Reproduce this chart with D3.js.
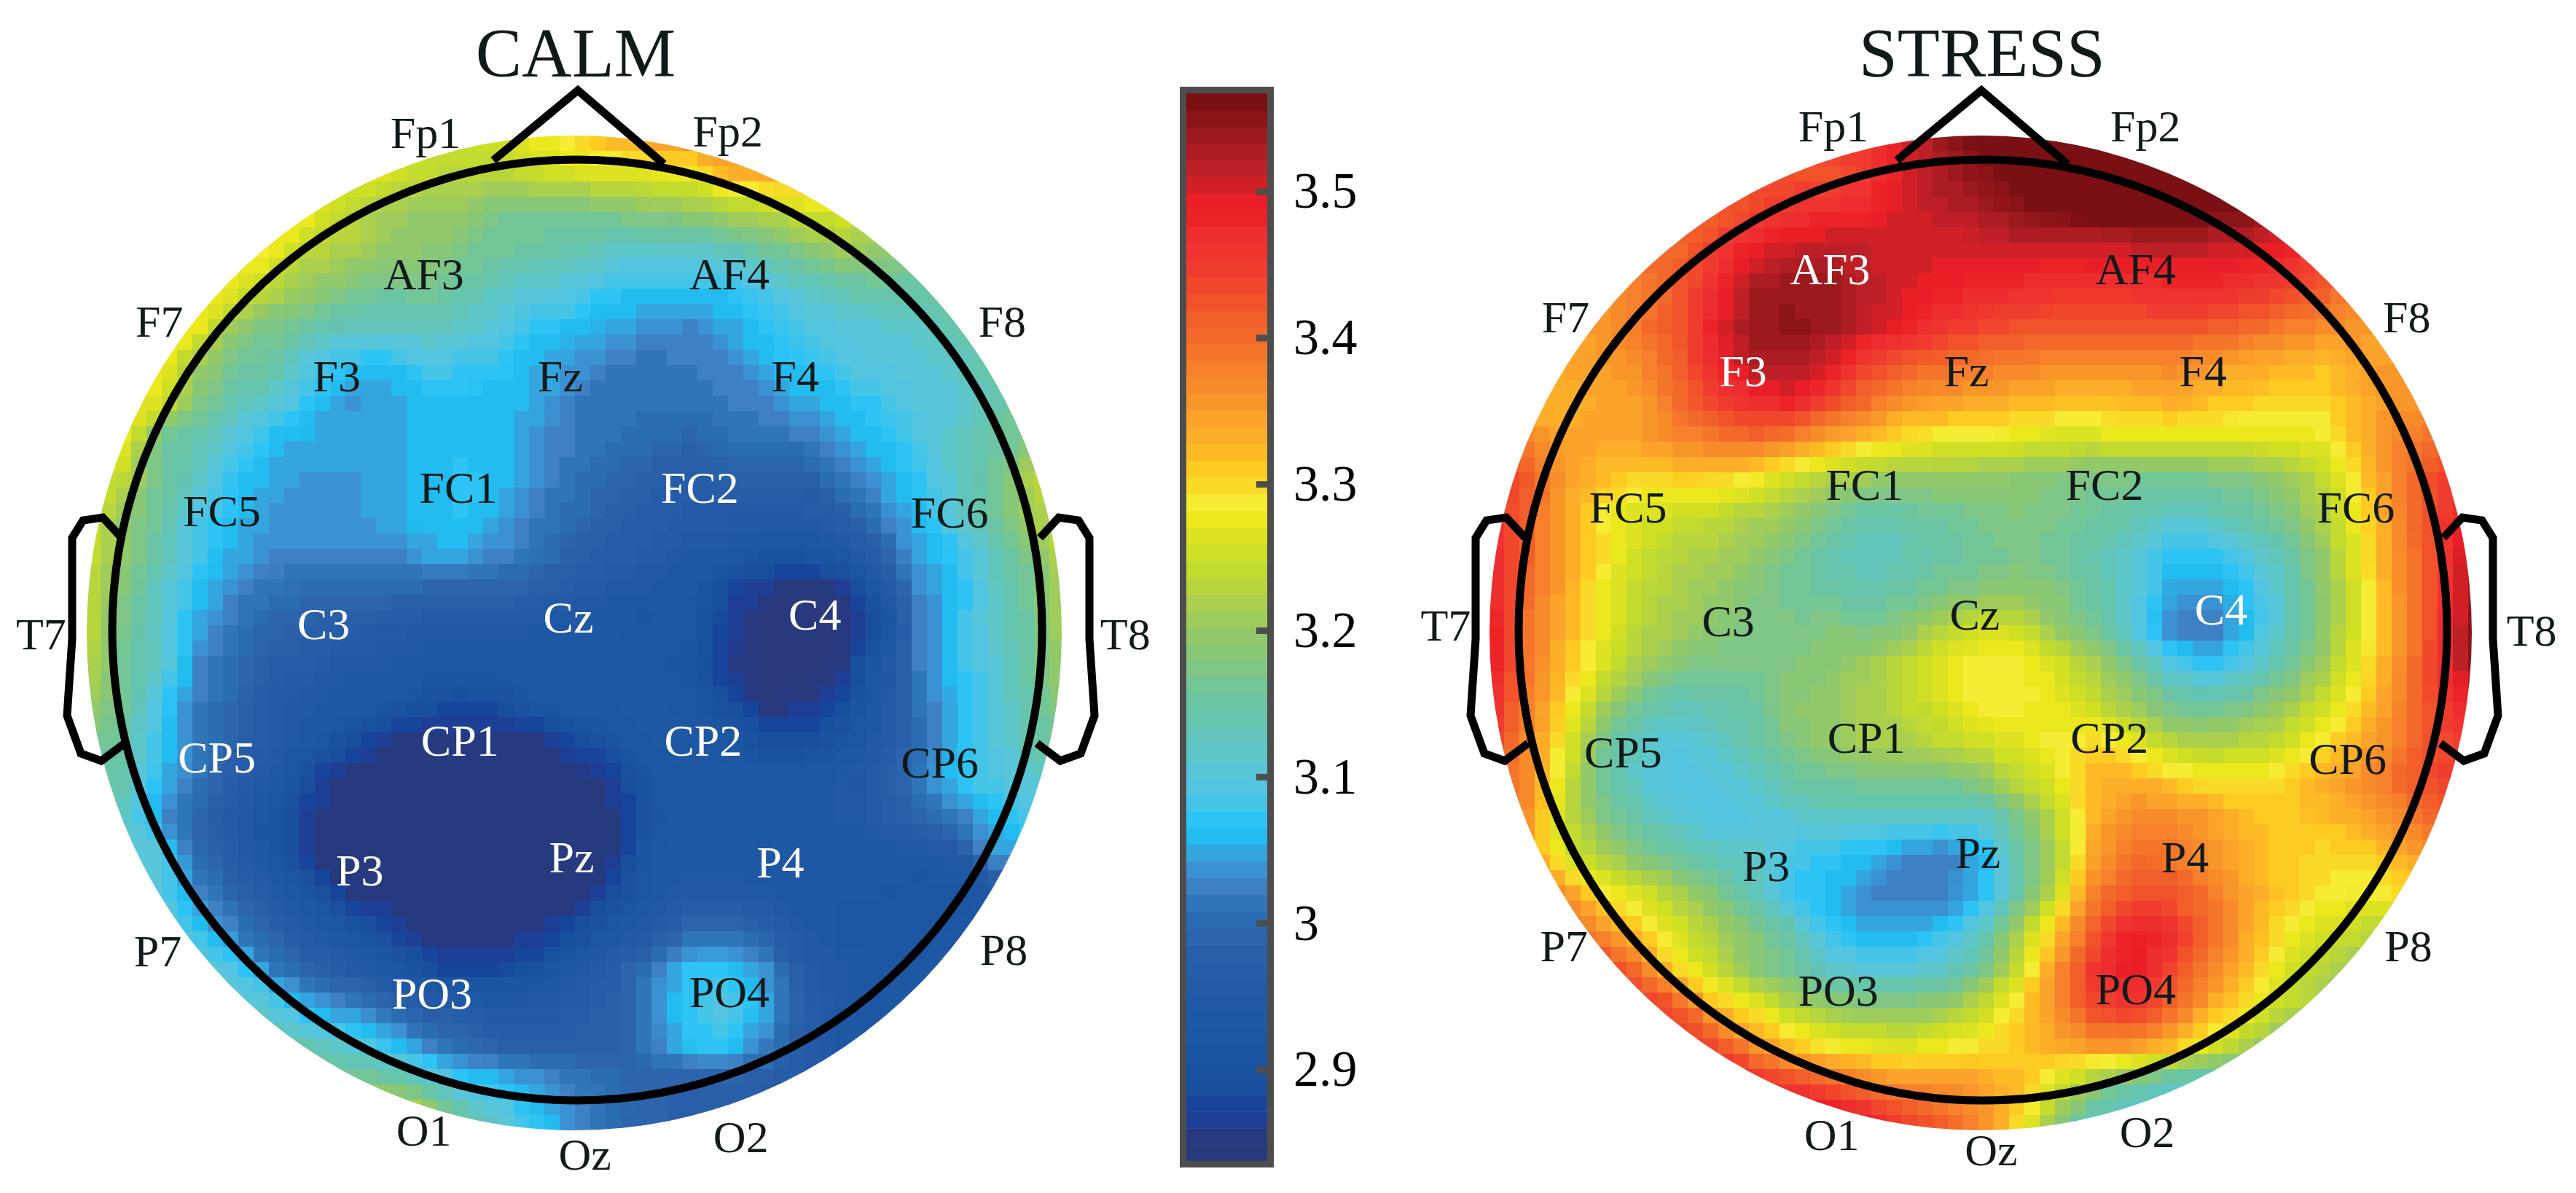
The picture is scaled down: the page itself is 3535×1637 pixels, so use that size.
<!DOCTYPE html>
<html><head><meta charset="utf-8">
<script src="https://cdn.jsdelivr.net/npm/d3@7"></script>
<style>html,body{margin:0;background:#fff}svg{display:block}text{font-family:"Liberation Serif","Times New Roman",serif}</style>
</head><body><svg id="c" width="3535" height="1637"></svg>
<script>
// Colour-bar levels, top of the scale last
const palette=["#28397c","#273a80","#1f3f96","#17459b","#19509d","#1b52a0","#1c55a2","#1d56a3","#1e57a4","#2058a5","#2359a6","#255da8","#295ea8","#2c65ae","#2b6db2","#2f75b9","#3e80c4","#3b92d2","#34a5de","#22bcf0","#2dc4f5","#44c5e8","#53c5e0","#58c6d8","#5dc6c9","#61c5bb","#66c5ad","#6bc5a5","#73c696","#7fc687","#88c776","#92c96a","#9fcc5b","#abd04e","#b8d63b","#c3da2e","#cfdf24","#dde222","#ebe81e","#f5ec33","#fada28","#fecb22","#feba25","#fdae29","#fba32a","#f9962a","#f78b2a","#f6802b","#f5752b","#f3692b","#f25e2a","#f1522a","#f1472c","#f03c2e","#ef3430","#ee2d2f","#ec2327","#e91e26","#d02026","#be1f26","#ac1c22","#9c191e","#8b1418","#7a1013"];
const colorDomain=[2.837,3.567];
const tickValues=[2.9,3,3.1,3.2,3.3,3.4,3.5];
const tickLabels=["2.9","3","3.1","3.2","3.3","3.4","3.5"];
const titles=["CALM","STRESS"];
const electrodes=["Fp1","Fp2","AF3","AF4","F7","F8","F3","Fz","F4","FC5","FC1","FC2","FC6","T7","T8","C3","Cz","C4","CP5","CP1","CP2","CP6","P3","Pz","P4","P7","P8","PO3","PO4","O1","Oz","O2"];

// Field values (hundredths), 27 rows of 27
const calmValues=[
[325,325,325,325,325,325,325,325,325,325,325,326,328,331,333,336,337,337,337,337,337,337,337,337,337,337,337],
[326,326,326,326,326,326,326,326,326,324,323,323,325,326,327,327,328,333,334,333,332,332,332,332,332,332,332],
[328,328,328,328,328,328,328,324,321,320,320,317,317,317,318,319,320,322,323,326,326,324,322,322,322,322,322],
[329,329,329,329,329,328,323,322,320,319,317,316,315,314,312,312,312,313,316,318,321,320,318,318,318,318,318],
[328,328,328,328,327,323,320,318,316,317,315,312,311,310,307,307,307,307,309,312,314,315,315,316,316,316,316],
[328,328,328,328,320,317,315,313,313,313,312,310,307,306,305,304,303,305,307,309,310,311,312,315,315,315,315],
[328,328,328,321,316,315,309,307,306,309,308,307,305,304,302,301,302,303,306,307,309,310,310,312,315,315,315],
[327,327,327,318,314,311,307,304,305,306,306,306,305,302,301,301,301,302,303,305,306,308,310,311,314,317,317],
[328,328,316,314,309,306,305,305,305,306,306,306,303,302,301,300,299,301,301,302,305,306,309,312,315,318,320],
[326,324,316,312,307,305,304,304,305,306,307,306,303,301,299,298,297,298,298,298,302,305,307,312,316,323,325],
[326,320,315,309,306,304,304,304,305,306,307,305,302,300,298,297,296,296,296,296,298,302,306,311,316,321,325],
[325,320,314,308,305,303,303,303,303,305,305,303,301,298,297,296,294,293,291,291,293,298,305,307,313,318,324],
[324,318,312,306,303,301,300,300,300,299,299,299,298,296,294,294,293,287,286,284,286,293,303,306,312,317,323],
[324,317,311,305,301,299,298,297,296,295,295,295,294,294,293,292,292,287,284,284,285,289,302,307,312,316,323],
[324,316,312,303,300,297,296,294,294,293,293,293,293,293,292,292,291,286,284,284,286,293,302,307,310,316,322],
[321,316,308,302,299,296,294,293,292,289,288,289,292,293,293,293,292,289,285,286,288,294,301,306,310,315,320],
[318,315,307,302,298,296,293,289,286,285,285,285,285,288,291,293,293,292,289,289,291,295,300,306,310,314,317],
[315,314,306,301,297,294,288,285,285,285,285,285,285,285,287,292,293,293,293,293,294,297,302,307,309,311,313],
[314,312,304,299,295,291,286,285,285,285,285,285,285,285,286,291,293,293,293,293,294,296,299,302,306,309,310],
[312,311,310,300,296,292,286,285,285,285,285,285,285,285,286,293,293,293,293,293,293,293,294,295,304,305,305],
[312,312,310,303,299,295,291,286,285,285,285,285,285,285,289,293,295,295,294,293,293,293,292,292,293,293,293],
[312,312,312,307,302,298,295,292,288,285,285,285,286,289,293,296,300,300,298,294,292,292,292,293,293,293,293],
[312,312,312,311,309,302,298,296,293,289,287,288,290,294,297,302,307,307,303,296,294,293,293,293,293,293,293],
[312,312,312,312,312,310,305,303,300,297,296,295,295,296,298,303,308,310,305,297,294,293,293,293,293,293,293],
[315,315,315,315,315,315,313,310,307,303,300,298,298,298,298,302,307,307,302,297,293,293,293,293,293,293,293],
[322,322,322,322,322,322,320,318,317,313,308,307,304,302,300,299,298,298,297,296,296,296,296,296,296,296,296],
[328,328,328,328,328,328,328,328,328,325,316,311,307,303,300,299,298,298,298,298,298,298,298,298,298,298,298]];
const stressValues=[
[345,345,345,345,345,345,345,345,345,345,345,350,354,357,357,357,357,357,357,357,357,357,357,357,357,357,357],
[343,343,343,343,343,343,343,343,343,342,345,350,353,355,357,357,357,357,357,357,357,357,357,357,357,357,357],
[342,342,342,342,342,342,341,344,346,347,348,350,352,353,355,357,357,357,357,357,356,353,353,353,353,353,353],
[340,340,340,340,340,340,345,349,351,352,351,350,350,350,351,350,351,351,352,351,350,349,344,344,344,344,344],
[336,336,336,336,338,342,347,353,354,354,352,350,349,348,347,346,346,346,347,348,346,345,342,338,338,338,338],
[334,334,334,336,339,342,349,354,355,354,351,349,346,344,343,343,343,343,343,342,341,339,337,336,334,334,334],
[334,334,334,335,337,341,348,353,353,350,344,342,340,339,338,337,337,337,337,336,334,333,332,334,336,336,336],
[332,332,333,334,335,340,345,347,349,344,340,336,335,334,333,332,332,332,334,332,331,330,330,333,336,336,336],
[338,338,334,334,335,337,339,340,338,334,332,329,328,328,327,326,326,327,327,327,327,327,328,333,337,340,340],
[345,342,335,332,330,331,331,329,326,323,321,320,320,320,319,318,317,317,317,317,318,320,324,330,338,344,345],
[346,341,334,329,326,325,324,322,320,317,314,315,316,317,318,317,316,314,312,313,315,317,322,329,337,344,350],
[348,341,334,330,325,323,322,320,317,314,312,313,315,316,317,316,314,311,307,307,310,314,320,328,336,344,353],
[349,340,334,328,324,322,320,318,316,315,314,315,317,318,319,318,315,311,305,304,307,312,319,327,336,344,354],
[350,339,333,328,323,321,319,317,317,318,317,319,323,326,325,320,316,310,303,301,306,312,319,327,335,344,355],
[350,339,332,326,321,318,317,317,318,319,321,324,327,329,329,326,322,317,310,307,310,315,321,328,336,345,355],
[348,338,330,322,316,313,314,315,319,320,322,324,326,329,329,327,324,320,316,315,317,320,325,330,337,344,350],
[345,337,328,317,312,310,312,315,318,320,322,322,324,325,327,329,330,327,323,322,323,325,329,333,338,343,346],
[342,337,326,316,311,309,310,312,315,316,317,317,317,319,324,327,333,333,331,329,329,330,333,336,340,344,347],
[340,336,324,318,314,311,309,310,311,312,311,311,311,311,317,324,333,337,337,335,332,331,332,334,337,341,343],
[338,335,326,322,318,315,313,312,308,307,306,303,302,305,315,322,335,339,339,336,333,331,330,330,333,336,336],
[338,338,336,329,326,322,318,313,308,306,303,302,302,306,315,325,338,343,342,339,334,331,329,328,330,330,330],
[340,340,340,336,331,326,322,318,314,307,305,305,307,312,322,332,342,349,347,341,334,329,326,324,322,322,322],
[345,345,345,345,339,330,324,319,316,312,310,310,312,316,325,336,346,350,344,338,332,326,323,320,318,318,318],
[345,345,345,345,345,342,332,328,323,320,319,319,320,324,330,337,344,346,341,334,329,324,321,319,318,318,318],
[345,345,345,345,345,345,343,336,331,328,327,326,328,329,331,334,336,336,333,327,322,318,317,317,317,317,317],
[350,350,350,350,350,350,350,347,344,342,338,336,336,335,332,326,320,316,312,311,311,311,311,311,311,311,311],
[350,350,350,350,350,350,350,350,352,352,349,344,341,337,330,320,312,310,310,310,310,310,310,310,310,310,310]];

// Layout of the text labels (page pixels)
const k=3535/1568;
const calmLabelX=[259,443,258,444,97,610,205,341,484,135,279,426,578,25,685,197,346,496,132,280,428,572,219,348,475,96,611,263,444,258,356,451];
const calmLabelY=[81,80,167,167,196,196,229,229,229,311,297,297,312,386,386,380,376,374,461,451,451,464,530,522,525,579,578,605,604,688,703,692];
const stressLabelX=[1116,1306,1114,1300,953,1465,1061,1197,1341,991,1135,1281,1434,880,1541,1052,1202,1352,988,1136,1284,1429,1075,1204,1330,952,1466,1119,1300,1115,1212,1307];
const stressLabelY=[77,77,164,164,193,193,226,226,226,309,295,295,309,381,384,378,374,371,458,449,449,462,527,519,522,576,576,603,602,691,700,689];
const calmWhite=["C3","Cz","C4","FC2","CP5","CP1","CP2","P3","Pz","P4","PO3"];
const stressWhite=["AF3","F3","C4"];

// Head outline, relative to the head centre (page pixels)
const noseOutline=[[-116,-642],[0,-738],[118,-637]];
const earOutline=[[632,-124],[658,-152],[685,-148],[700,-124],[700,-39],[700,15],[707,120],[688,172],[660,182],[628,158]];

const svg=d3.select("#c");
const defs=svg.append("defs");
const color=d3.scaleQuantize().domain(colorDomain).range(palette);
const R=676, CY=862, N=27, INK="#111a1a";

function head(id,p){
  const {cx,rows,title,titleX,lx,ly,white,discX,discRx,ringX,ringRx}=p;
  const xs=d3.scaleLinear().domain([.5,N-.5]).range([cx-R,cx+R]);
  const ys=d3.scaleLinear().domain([.5,N-.5]).range([CY-R,CY+R]);
  const x0=cx-R-21,y0=CY-R-21,s=R*2+42;
  defs.append("clipPath").attr("id","clip"+id).append("ellipse").attr("cx",discX).attr("cy",868.5).attr("rx",discRx).attr("ry",682.5);
  const f=defs.append("filter").attr("id","pix"+id).attr("filterUnits","userSpaceOnUse").attr("primitiveUnits","userSpaceOnUse")
    .attr("x",x0).attr("y",y0).attr("width",s).attr("height",s).attr("color-interpolation-filters","sRGB");
  f.append("feFlood").attr("x",x0+10).attr("y",y0+10).attr("width",1).attr("height",1).attr("flood-color","#000");
  f.append("feComposite").attr("x",x0).attr("y",y0).attr("width",21).attr("height",21);
  f.append("feTile").attr("result","tile");
  f.append("feComposite").attr("in","SourceGraphic").attr("in2","tile").attr("operator","in");
  f.append("feMorphology").attr("operator","dilate").attr("radius",10);

  const contours=d3.contours().size([N,N]).thresholds(color.thresholds());
  const values=d3.merge(rows).map(v=>v/100);
  const path=d3.geoPath(d3.geoTransform({point(x,y){this.stream.point(xs(x),ys(y));}}));
  const g=svg.append("g").attr("clip-path",`url(#clip${id})`).append("g").attr("filter",`url(#pix${id})`);
  g.append("rect").attr("x",x0).attr("y",y0).attr("width",s).attr("height",s).attr("fill",palette[0]);
  g.selectAll("path").data(contours(values)).join("path").attr("d",path).attr("fill",d=>color(d.value+1e-6));

  const outline=d3.line();
  const h=svg.append("g").attr("transform",`translate(${cx},${CY})`).attr("fill","none").attr("stroke","#000").attr("stroke-width",11).attr("stroke-linejoin","miter");
  h.append("ellipse").attr("cx",ringX-cx).attr("cy",2.5).attr("rx",ringRx).attr("ry",645.5);
  h.append("path").attr("d",outline(noseOutline));
  h.append("path").attr("d",outline(earOutline.map(([a,b])=>[a+2,b])));
  h.append("path").attr("d",outline(earOutline.map(([a,b])=>[-a+6,b])));

  svg.append("text").attr("x",titleX).attr("y",105).attr("text-anchor","middle").attr("font-size",95).attr("fill",INK).text(title);
  svg.append("g").selectAll("text").data(electrodes).join("text")
    .attr("x",(d,i)=>lx[i]*k).attr("y",(d,i)=>ly[i]*k).attr("dy","0.33em").attr("text-anchor","middle")
    .attr("font-size",62).attr("fill",d=>white.includes(d)?"#fff":INK).text(d=>d);
}
head("A",{cx:793,rows:calmValues,title:titles[0],titleX:790,lx:calmLabelX,ly:calmLabelY,white:calmWhite,discX:788,discRx:669,ringX:792,ringRx:638});
head("B",{cx:2719,rows:stressValues,title:titles[1],titleX:2720,lx:stressLabelX,ly:stressLabelY,white:stressWhite,discX:2718,discRx:674,ringX:2721,ringRx:637});

// Colour bar
const barY=d3.scaleLinear().domain(colorDomain).range([1594,128]);
const bar=svg.append("g");
bar.selectAll("rect").data(palette).join("rect")
  .attr("x",1628).attr("width",111)
  .attr("y",d=>barY(color.invertExtent(d)[1])).attr("height",d=>barY(color.invertExtent(d)[0])-barY(color.invertExtent(d)[1])+.5)
  .attr("fill",d=>d);
bar.append("rect").attr("x",1623.5).attr("y",123.5).attr("width",120).attr("height",1474).attr("fill","none").attr("stroke","#4d4d4d").attr("stroke-width",9);
const axis=d3.axisRight(barY).tickValues(tickValues).tickSize(-15).tickPadding(36).tickFormat((d,i)=>tickLabels[i]);
const ag=svg.append("g").attr("transform","translate(1739,0)").call(axis);
ag.select(".domain").remove();
ag.selectAll("line").attr("stroke","#4d4d4d").attr("stroke-width",9);
ag.selectAll("text").attr("font-size",70).attr("fill","#000").attr("font-family","Liberation Serif");
</script></body></html>
